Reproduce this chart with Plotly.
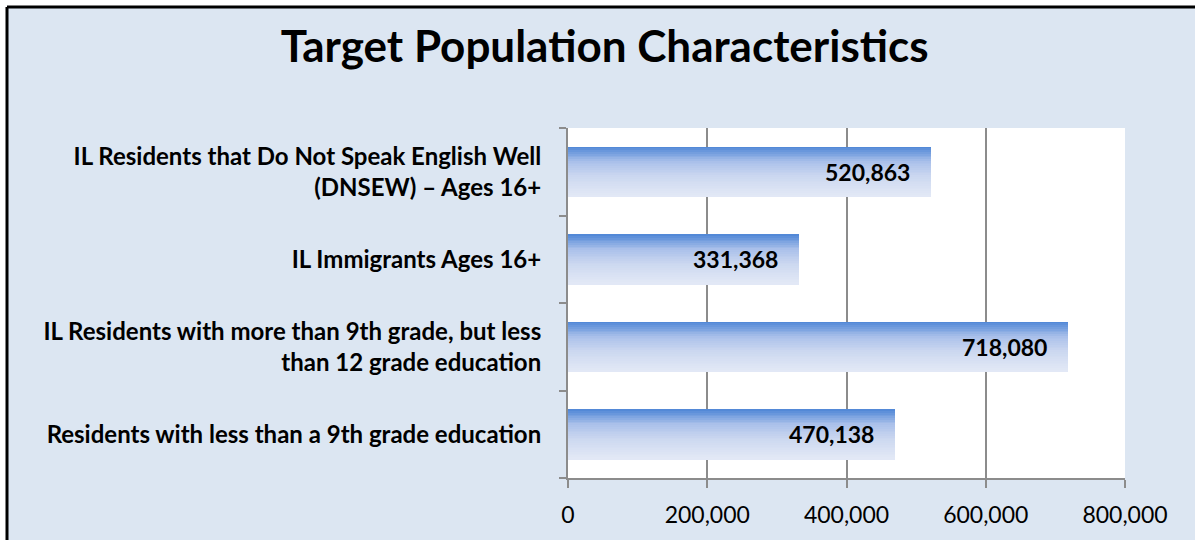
import plotly.graph_objects as go

# Categories listed bottom-to-top as they appear on the axis
categories = [
    "Residents with less than a 9th grade education",
    "IL Residents with more than 9th grade, but less<br>than 12 grade education",
    "IL Immigrants Ages 16+",
    "IL Residents that Do Not Speak English Well<br>(DNSEW) – Ages 16+",
]
values = [470138, 718080, 331368, 520863]
value_labels = ["470,138", "718,080", "331,368", "520,863"]

x_tickvals = [0, 200000, 400000, 600000, 800000]
x_ticktext = ["0", "200,000", "400,000", "600,000", "800,000"]

title_text = "<b>Target Population Characteristics</b>"

FONT = "Lato"
BG = "#DCE6F2"
GRID = "#8C8C8C"

# Vertical gradient for the bars (top -> bottom)
stops = [
    (0.00, (78, 134, 214)),
    (0.30, (170, 192, 234)),
    (0.60, (204, 216, 240)),
    (1.00, (227, 233, 246)),
]


def grad_color(t):
    for (t0, c0), (t1, c1) in zip(stops[:-1], stops[1:]):
        if t <= t1:
            f = (t - t0) / (t1 - t0) if t1 > t0 else 0
            r, g, b = (round(a + (bb - a) * f) for a, bb in zip(c0, c1))
            return f"rgb({r},{g},{b})"
    r, g, b = stops[-1][1]
    return f"rgb({r},{g},{b})"


bar_w = 0.57
n_slices = 28
slice_w = bar_w / n_slices

fig = go.Figure()
for k in range(n_slices):
    fig.add_trace(go.Bar(
        x=values,
        y=categories,
        orientation="h",
        width=slice_w * 1.08,
        offset=bar_w / 2 - (k + 1) * slice_w,
        marker=dict(color=grad_color((k + 0.5) / n_slices), line=dict(width=0)),
        hoverinfo="skip",
        showlegend=False,
    ))

# Data labels placed just inside the end of each bar
for cat, v, lab in zip(categories, values, value_labels):
    fig.add_annotation(
        x=v, y=cat, xref="x", yref="y",
        text=f"<b>{lab}</b>", showarrow=False,
        xanchor="right", yanchor="middle", xshift=-19,
        font=dict(family=FONT, size=23, color="#000000"),
    )

# Chart area fill, its black frame (left and top edges), and the white plot area
left = -561 / 557
top = 1 + 121 / 350
fig.add_shape(
    type="rect", xref="paper", yref="paper", layer="below",
    x0=left, x1=1.3, y0=-0.4, y1=top,
    fillcolor=BG, line=dict(width=0),
)
fig.add_shape(
    type="line", xref="paper", yref="paper", layer="below",
    x0=left, x1=1.3, y0=top, y1=top,
    line=dict(color="#000000", width=3),
)
fig.add_shape(
    type="line", xref="paper", yref="paper", layer="below",
    x0=left, x1=left, y0=-0.4, y1=top,
    line=dict(color="#000000", width=3),
)
fig.add_shape(
    type="rect", xref="x domain", yref="y domain", layer="below",
    x0=0, x1=1, y0=0, y1=1,
    fillcolor="#FFFFFF", line=dict(width=0),
)

fig.update_layout(
    width=1195, height=540,
    margin=dict(l=568, r=70, t=128, b=62),
    paper_bgcolor="#FFFFFF",
    plot_bgcolor="#FFFFFF",
    barmode="overlay",
    bargap=0,
    font=dict(family=FONT, color="#000000"),
    title=dict(
        text=title_text, x=0.506, xref="container", xanchor="center",
        y=1 - 47 / 540, yref="container", yanchor="middle",
        font=dict(family=FONT, size=44, color="#000000"),
    ),
    xaxis=dict(
        range=[0, 800000],
        tickvals=x_tickvals, ticktext=x_ticktext,
        showgrid=True, gridcolor=GRID, gridwidth=2,
        showline=True, linecolor=GRID, linewidth=2,
        ticks="outside", ticklen=8, tickwidth=2, tickcolor=GRID,
        tickfont=dict(family=FONT, size=23, color="#000000"),
        ticklabelstandoff=7,
        zeroline=False, fixedrange=True,
    ),
    yaxis=dict(
        type="category",
        categoryorder="array", categoryarray=categories,
        showgrid=False,
        showline=True, linecolor=GRID, linewidth=2,
        ticks="outside", ticklen=7, tickwidth=2, tickcolor=GRID,
        tickson="boundaries",
        tickfont=dict(family=FONT, size=24, color="#000000", weight="bold"),
        ticklabelstandoff=20,
        fixedrange=True,
    ),
)

fig.write_html("out.html")
